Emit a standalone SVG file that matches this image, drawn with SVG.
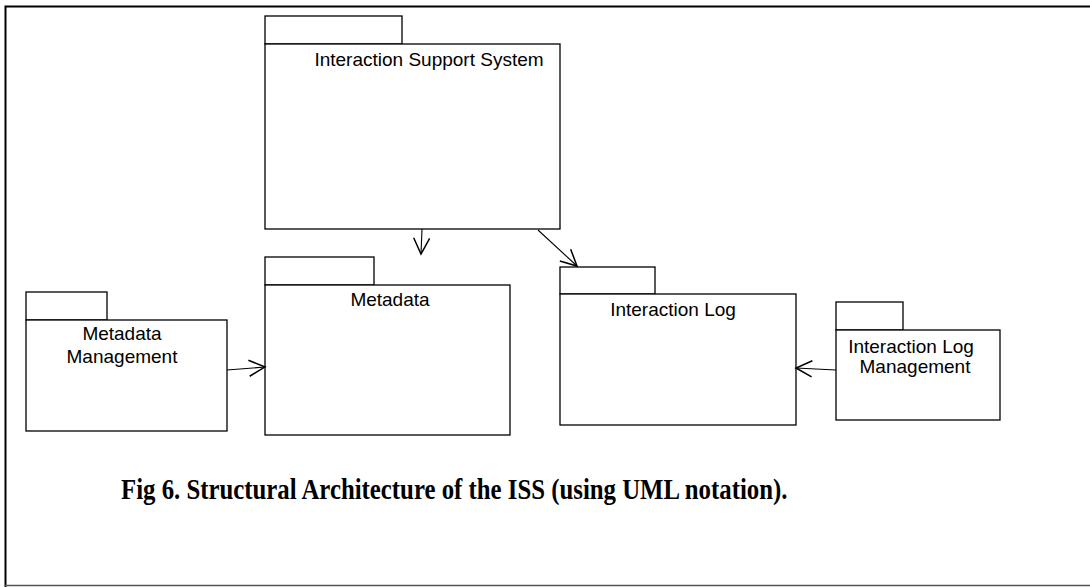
<svg xmlns="http://www.w3.org/2000/svg" width="1090" height="587" viewBox="0 0 1090 587">
<defs>
<style>
.pk{fill:#fff;stroke:#000;stroke-width:1.3}
.lb{font-family:"Liberation Sans",Arial,sans-serif;font-size:19px;fill:#000;text-anchor:middle}
.cn{fill:none;stroke:#000;stroke-width:1.1}
.cap{font-family:"Liberation Serif","Times New Roman",serif;font-weight:bold;font-size:24.8px;fill:#000}
</style>
<marker id="open" markerWidth="20" markerHeight="20" refX="17" refY="10" orient="auto" markerUnits="userSpaceOnUse">
<path d="M1,2 L17,10 L1,18" fill="none" stroke="#000" stroke-width="1.5"/>
</marker>
</defs>
<rect x="0" y="0" width="1090" height="587" fill="#fff"/>
<path d="M5.5,587 V6.5 H1090" fill="none" stroke="#000" stroke-width="2"/>
<line x1="5" y1="585.5" x2="1090" y2="585.5" stroke="#555" stroke-width="1.5"/>

<g id="iss">
<rect class="pk" x="265" y="16" width="137" height="28"/>
<rect class="pk" x="265" y="44" width="295" height="185"/>
<text class="lb" x="429" y="66">Interaction Support System</text>
</g>
<g id="metadata-management">
<rect class="pk" x="26" y="292" width="81" height="28"/>
<rect class="pk" x="26" y="320" width="201" height="111"/>
<text class="lb" x="122" y="340">Metadata</text>
<text class="lb" x="122" y="363">Management</text>
</g>
<g id="metadata">
<rect class="pk" x="265" y="257" width="109" height="28"/>
<rect class="pk" x="265" y="285" width="245" height="150"/>
<text class="lb" x="390" y="306">Metadata</text>
</g>
<g id="interaction-log">
<rect class="pk" x="560" y="267" width="95" height="27"/>
<rect class="pk" x="560" y="294" width="236" height="131"/>
<text class="lb" x="673" y="316">Interaction Log</text>
</g>
<g id="interaction-log-management">
<rect class="pk" x="836" y="302" width="67" height="28"/>
<rect class="pk" x="836" y="330" width="164" height="90"/>
<text class="lb" x="911" y="353">Interaction Log</text>
<text class="lb" x="915" y="373">Management</text>
</g>
<g id="connectors">
<line class="cn" x1="422" y1="229" x2="421" y2="254" marker-end="url(#open)"/>
<line class="cn" x1="538" y1="230" x2="577" y2="266" marker-end="url(#open)"/>
<line class="cn" x1="227" y1="370" x2="265" y2="367" marker-end="url(#open)"/>
<line class="cn" x1="836" y1="370" x2="796" y2="368" marker-end="url(#open)"/>
</g>
<text class="cap" transform="translate(121,499) scale(1,1.15)" x="0" y="0">Fig 6. Structural Architecture of the ISS (using UML notation).</text>
</svg>
